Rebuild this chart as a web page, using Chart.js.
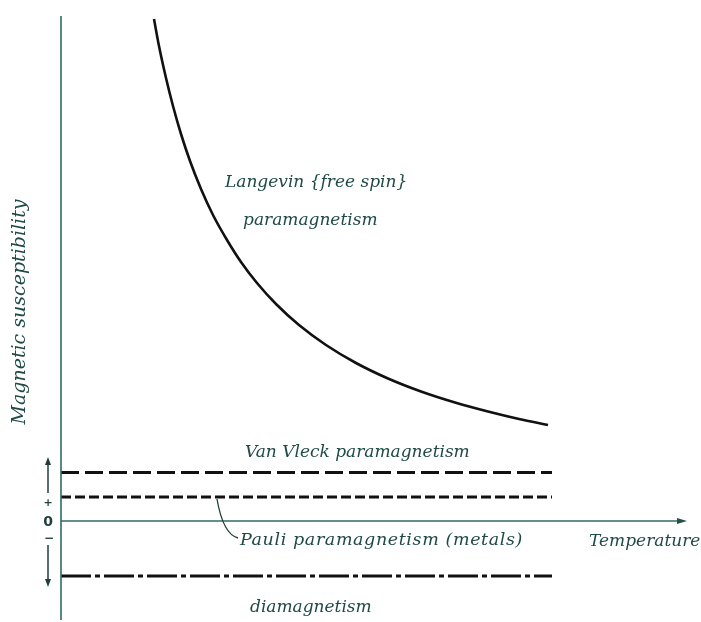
<!DOCTYPE html>
<html>
<head>
<meta charset="utf-8">
<script src="https://cdn.jsdelivr.net/npm/chart.js@4.4.1/dist/chart.umd.min.js"></script>
<style>
  html, body { margin: 0; padding: 0; background: #ffffff; }
  #wrap { width: 701px; height: 622px; position: relative; }
</style>
</head>
<body>
<div id="wrap"><canvas id="chart" width="701" height="622"></canvas></div>
<script>
// Temperature (arbitrary units) and Langevin susceptibility
const langevinT   = [18.6, 19.6, 21.0, 22.4, 24.0, 25.8, 28.0, 30.4, 33.2, 36.0, 39.2, 43.0, 47.6, 53.0, 59.0, 65.4, 72.0, 78.8, 85.4, 91.6, 97.4];
const langevinChi = [100.4, 95.0, 88.6, 83.0, 77.4, 72.0, 66.4, 61.2, 56.2, 51.8, 47.6, 43.4, 39.2, 35.2, 31.6, 28.5, 25.9, 23.7, 21.9, 20.4, 19.2];

// Temperature-independent contributions
const flatT        = [0, 98.2];
const vanVleckChi  = [9.7, 9.7];
const pauliChi     = [4.8, 4.8];
const diamagChi    = [-11.0, -11.0];

// Text drawn on the plot
const curveLabels  = ['Langevin {free spin}', 'paramagnetism'];
const vanVleckText = 'Van Vleck paramagnetism';
const pauliText    = 'Pauli paramagnetism (metals)';
const diamagText   = 'diamagnetism';
const xTitle       = 'Temperature';
const yTitle       = 'Magnetic susceptibility';
const signLabels   = ['+', '0', '\u2212'];

const INK = '#111111';
const TEAL = '#2f6b64';
const TEXT = '#1f4a46';
const FONT = 'italic 17px "DejaVu Serif"';

function pts(xs, ys) { return xs.map((x, i) => ({ x: x, y: ys[i] })); }

// Axes with arrows, sign marks and the annotations
const decorations = {
  id: 'decorations',
  afterDatasetsDraw(chart) {
    const { ctx, chartArea, scales } = chart;
    const xs = scales.x, ys = scales.y;
    const y0 = ys.getPixelForValue(0);
    const xL = chartArea.left;
    ctx.save();

    // vertical axis
    ctx.strokeStyle = TEAL;
    ctx.lineWidth = 1.6;
    ctx.beginPath();
    ctx.moveTo(xL, chartArea.top);
    ctx.lineTo(xL, chartArea.bottom + 4);
    ctx.stroke();

    // horizontal (temperature) axis with arrow head
    const xEnd = xs.getPixelForValue(125.2);
    ctx.beginPath();
    ctx.moveTo(xL, y0);
    ctx.lineTo(xEnd - 6, y0);
    ctx.stroke();
    ctx.fillStyle = '#24504a';
    ctx.beginPath();
    ctx.moveTo(xEnd, y0);
    ctx.lineTo(xEnd - 10, y0 - 3);
    ctx.lineTo(xEnd - 10, y0 + 3);
    ctx.closePath();
    ctx.fill();

    // sign marks and arrows to the left of the vertical axis
    const sx = xL - 13;
    ctx.strokeStyle = '#1f3f3b';
    ctx.fillStyle = '#1f3f3b';
    ctx.lineWidth = 1.5;
    const upTop = ys.getPixelForValue(12.8), upBot = ys.getPixelForValue(5.6);
    ctx.beginPath(); ctx.moveTo(sx, upBot); ctx.lineTo(sx, upTop + 6); ctx.stroke();
    ctx.beginPath(); ctx.moveTo(sx, upTop); ctx.lineTo(sx - 3, upTop + 8); ctx.lineTo(sx + 3, upTop + 8); ctx.closePath(); ctx.fill();
    const dnTop = ys.getPixelForValue(-4.8), dnBot = ys.getPixelForValue(-13.2);
    ctx.beginPath(); ctx.moveTo(sx, dnTop); ctx.lineTo(sx, dnBot - 6); ctx.stroke();
    ctx.beginPath(); ctx.moveTo(sx, dnBot); ctx.lineTo(sx - 3, dnBot - 8); ctx.lineTo(sx + 3, dnBot - 8); ctx.closePath(); ctx.fill();

    ctx.textAlign = 'center';
    ctx.textBaseline = 'middle';
    ctx.font = 'bold 11px "DejaVu Sans"';
    ctx.fillText(signLabels[0], sx, ys.getPixelForValue(3.6));
    ctx.font = 'bold 14px "DejaVu Sans"';
    ctx.fillText(signLabels[1], sx, y0 + 1);
    ctx.font = 'bold 12px "DejaVu Sans"';
    ctx.fillText(signLabels[2], sx + 1, ys.getPixelForValue(-3.6));

    // annotations
    ctx.fillStyle = TEXT;
    ctx.font = FONT;
    ctx.textAlign = 'left';
    ctx.fillText(curveLabels[0], xs.getPixelForValue(32.8), ys.getPixelForValue(67.6));
    ctx.fillText(curveLabels[1], xs.getPixelForValue(36.4), ys.getPixelForValue(60.0));
    ctx.fillText(vanVleckText, xs.getPixelForValue(36.8), ys.getPixelForValue(13.6));
    ctx.fillText(diamagText, xs.getPixelForValue(37.8), ys.getPixelForValue(-17.4));
    ctx.fillText(xTitle, xs.getPixelForValue(105.6), ys.getPixelForValue(-4.2));
    ctx.save();
    ctx.font = 'italic 17.5px "DejaVu Serif"';
    ctx.letterSpacing = '0.6px';
    ctx.fillText(pauliText, xs.getPixelForValue(35.8), ys.getPixelForValue(-3.8));
    ctx.restore();

    // leader from the Pauli label up to its dashed line
    ctx.strokeStyle = '#1f3f3b';
    ctx.lineWidth = 1.3;
    const lx0 = xs.getPixelForValue(31.2), ly0 = ys.getPixelForValue(4.4);
    const lx1 = xs.getPixelForValue(35.4), ly1 = ys.getPixelForValue(-3.4);
    ctx.beginPath();
    ctx.moveTo(lx0, ly0);
    ctx.quadraticCurveTo(lx0 + 6, ly1 - 4, lx1, ly1);
    ctx.stroke();

    // vertical axis title
    ctx.save();
    ctx.translate(20, ys.getPixelForValue(41.8));
    ctx.rotate(-Math.PI / 2);
    ctx.textAlign = 'center';
    ctx.font = 'italic 19px "DejaVu Serif"';
    ctx.fillStyle = TEXT;
    ctx.fillText(yTitle, 0, 0);
    ctx.restore();

    ctx.restore();
  }
};

new Chart(document.getElementById('chart'), {
  type: 'scatter',
  data: {
    datasets: [
      {
        label: 'Langevin',
        data: pts(langevinT, langevinChi),
        showLine: true,
        borderColor: INK,
        borderWidth: 2.6,
        pointRadius: 0,
        cubicInterpolationMode: 'monotone',
        fill: false
      },
      {
        label: 'Van Vleck',
        data: pts(flatT, vanVleckChi),
        showLine: true,
        borderColor: INK,
        borderWidth: 3,
        borderDash: [18, 6],
        pointRadius: 0
      },
      {
        label: 'Pauli',
        data: pts(flatT, pauliChi),
        showLine: true,
        borderColor: INK,
        borderWidth: 3,
        borderDash: [10, 4],
        pointRadius: 0
      },
      {
        label: 'Diamagnetism',
        data: pts(flatT, diamagChi),
        showLine: true,
        borderColor: INK,
        borderWidth: 3,
        borderDash: [30, 4, 5, 4],
        pointRadius: 0
      }
    ]
  },
  options: {
    responsive: false,
    animation: false,
    layout: { padding: { left: 61, right: 10, top: 16, bottom: 6 } },
    plugins: { legend: { display: false }, tooltip: { enabled: false } },
    scales: {
      x: { type: 'linear', min: 0, max: 126, display: false },
      y: { type: 'linear', min: -19, max: 101, display: false }
    }
  },
  plugins: [decorations]
});
</script>
</body>
</html>
